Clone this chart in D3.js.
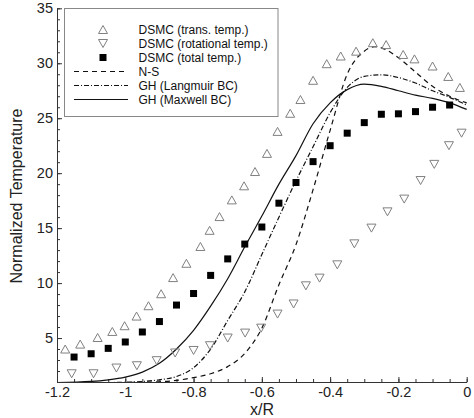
<!DOCTYPE html>
<html><head><meta charset="utf-8">
<script src="https://cdn.jsdelivr.net/npm/d3@7"></script>
<style>
body{margin:0;background:#fff;}
svg{display:block;font-family:"Liberation Sans",Arial,sans-serif;}
</style></head>
<body><svg id="c" width="474" height="418"></svg>
<script>
// ---- data ----
const transX = [-1.176,-1.132,-1.081,-1.038,-1.002,-0.967,-0.932,-0.895,-0.86,-0.821,-0.78,-0.753,-0.724,-0.688,-0.652,-0.62,-0.585,-0.554,-0.517,-0.487,-0.45,-0.41,-0.369,-0.324,-0.275,-0.236,-0.186,-0.153,-0.1,-0.054,-0.02];
const transY = [4.0,4.45,5.05,5.6,6.12,7.0,7.94,9.03,10.5,11.8,13.33,14.8,16.05,17.57,18.85,20.15,21.8,23.8,25.45,26.7,28.45,29.96,30.66,31.1,31.87,31.7,30.8,30.4,29.75,28.8,27.8];
const rotX = [-1.157,-1.093,-1.026,-0.966,-0.908,-0.854,-0.8,-0.752,-0.7,-0.649,-0.602,-0.554,-0.507,-0.471,-0.431,-0.379,-0.329,-0.279,-0.232,-0.183,-0.135,-0.095,-0.052,-0.015];
const rotY = [1.75,1.75,2.27,2.48,2.94,3.64,3.87,4.3,5.0,5.45,5.9,7.18,8.1,9.75,10.45,11.66,13.57,15.0,16.48,17.64,19.33,20.8,22.5,23.64];
const totalX = [-1.15,-1.1,-1.05,-1.0,-0.95,-0.9,-0.85,-0.8,-0.75,-0.7,-0.65,-0.6,-0.55,-0.5,-0.45,-0.4,-0.35,-0.3,-0.25,-0.2,-0.15,-0.1,-0.05];
const totalY = [3.27,3.57,4.06,4.64,5.55,6.5,8.0,9.05,10.7,12.2,13.55,15.1,17.27,19.15,21.05,22.5,23.64,24.6,25.36,25.4,25.6,26.0,26.2];
const nsX = [-1.2,-1.0,-0.9,-0.85,-0.8,-0.75,-0.7,-0.65,-0.6,-0.55,-0.5,-0.45,-0.4,-0.35,-0.3,-0.27,-0.25,-0.2,-0.15,-0.1,-0.05,0];
const nsY = [0.9,0.95,1.02,1.15,1.4,1.75,2.4,3.6,5.9,9.85,13.5,18.5,23.9,29.0,31.1,31.5,31.4,30.5,29.2,27.9,27.0,26.4];
const langX = [-1.2,-1.0,-0.95,-0.9,-0.85,-0.8,-0.75,-0.7,-0.65,-0.6,-0.55,-0.5,-0.45,-0.4,-0.35,-0.3,-0.25,-0.2,-0.15,-0.1,-0.05,0];
const langY = [0.9,0.98,1.05,1.2,1.5,2.3,4.0,6.6,9.2,12.6,16.0,19.3,22.4,25.5,27.8,28.8,28.95,28.7,28.2,27.5,26.9,26.2];
const maxX = [-1.2,-1.1,-1.05,-1.0,-0.95,-0.9,-0.85,-0.8,-0.75,-0.7,-0.65,-0.6,-0.55,-0.5,-0.45,-0.4,-0.35,-0.3,-0.25,-0.2,-0.15,-0.1,-0.05,0];
const maxY = [0.95,1.05,1.2,1.45,1.9,2.7,4.0,5.7,7.9,10.4,13.3,16.1,19.0,21.6,24.5,26.4,27.6,28.1,27.9,27.5,27.1,26.8,26.4,25.8];
const xTicks = [-1.2,-1,-0.8,-0.6,-0.4,-0.2,0];
const yTicks = [5,10,15,20,25,30,35];
const legendLabels = ["DSMC (trans. temp.)","DSMC (rotational temp.)","DSMC (total temp.)","N-S","GH (Langmuir BC)","GH (Maxwell BC)"];

// ---- chart ----
const svg = d3.select("#c");
const x = d3.scaleLinear().domain([-1.2,0]).range([57,466.7]);
const y = d3.scaleLinear().domain([1,35]).range([382,8.3]);
const axisColor = "#333";

svg.append("defs").append("clipPath").attr("id","clip")
  .append("rect").attr("x",57).attr("y",0).attr("width",420).attr("height",382);

// minor ticks
const xMinor = d3.range(-1.2,0.001,0.05).map(v=>+v.toFixed(2));
const yMinor = d3.range(1,35.5,1);
svg.append("g").attr("transform","translate(0,382)")
  .call(d3.axisBottom(x).tickValues(xMinor).tickSize(-3).tickSizeOuter(0).tickFormat(""))
  .call(g=>g.select(".domain").remove())
  .call(g=>g.selectAll("line").attr("stroke",axisColor));
svg.append("g").attr("transform","translate(57,0)")
  .call(d3.axisLeft(y).tickValues(yMinor).tickSize(-3).tickSizeOuter(0).tickFormat(""))
  .call(g=>g.select(".domain").remove())
  .call(g=>g.selectAll("line").attr("stroke",axisColor));

// major axes
const gx = svg.append("g").attr("transform","translate(0,382)")
  .call(d3.axisBottom(x).tickValues(xTicks).tickSize(-5).tickSizeOuter(0).tickPadding(5).tickFormat(d=>d3.format("")(d).replace("−","-")));
const gy = svg.append("g").attr("transform","translate(57,0)")
  .call(d3.axisLeft(y).tickValues(yTicks).tickSize(-5).tickSizeOuter(0).tickPadding(4));
[gx,gy].forEach(g=>{
  g.select(".domain").attr("stroke",axisColor);
  g.selectAll("line").attr("stroke",axisColor);
  g.selectAll("text").attr("font-size",14.5).attr("fill","#222").attr("font-family","'Liberation Sans',Arial,sans-serif");
});

svg.append("text").attr("x",262).attr("y",414.5).attr("text-anchor","middle")
  .attr("font-size",16).attr("fill","#222").text("x/R");
svg.append("text").attr("transform","translate(22,196) rotate(-90)").attr("text-anchor","middle")
  .attr("font-size",16).attr("fill","#222").text("Normalized Temperature");

// lines
const mkLine = d3.line().x(d=>x(d[0])).y(d=>y(d[1])).curve(d3.curveMonotoneX);
const plot = svg.append("g").attr("clip-path","url(#clip)");
const lineSpecs = [
  {xs:nsX, ys:nsY, dash:"5,4"},
  {xs:langX, ys:langY, dash:"5,2,1,2"},
  {xs:maxX, ys:maxY, dash:null}
];
lineSpecs.forEach(s=>{
  plot.append("path").datum(s.xs.map((v,i)=>[v,s.ys[i]]))
    .attr("d",mkLine).attr("fill","none").attr("stroke","#111").attr("stroke-width",1.2)
    .attr("stroke-dasharray",s.dash);
});

// markers
const upTri = "M0,-4L4.5,4L-4.5,4Z";
const downTri = "M0,4L4.5,-4L-4.5,-4Z";
plot.append("g").selectAll("path").data(transX.map((v,i)=>[v,transY[i]])).join("path")
  .attr("d",upTri).attr("transform",d=>`translate(${x(d[0])},${y(d[1])})`)
  .attr("fill","none").attr("stroke","#808080").attr("stroke-width",1);
plot.append("g").selectAll("path").data(rotX.map((v,i)=>[v,rotY[i]])).join("path")
  .attr("d",downTri).attr("transform",d=>`translate(${x(d[0])},${y(d[1])})`)
  .attr("fill","none").attr("stroke","#808080").attr("stroke-width",1);
plot.append("g").selectAll("rect").data(totalX.map((v,i)=>[v,totalY[i]])).join("rect")
  .attr("x",d=>x(d[0])-3.5).attr("y",d=>y(d[1])-3.5).attr("width",7).attr("height",7)
  .attr("fill","#000");

// legend
const lg = svg.append("g");
lg.append("rect").attr("x",64.5).attr("y",8.5).attr("width",213.5).attr("height",108)
  .attr("fill","#fff").attr("stroke","#888").attr("stroke-width",1);
const rowY = d => 29.5 + d*14;
legendLabels.forEach((t,i)=>{
  lg.append("text").attr("x",138.5).attr("y",rowY(i)+4.3).attr("font-size",12).attr("fill","#111").text(t);
});
lg.append("path").attr("d",upTri).attr("transform",`translate(103,${rowY(0)})`).attr("fill","none").attr("stroke","#808080");
lg.append("path").attr("d",downTri).attr("transform",`translate(103,${rowY(1)})`).attr("fill","none").attr("stroke","#808080");
lg.append("rect").attr("x",99.5).attr("y",rowY(2)-3.5).attr("width",7).attr("height",7).attr("fill","#000");
lineSpecs.forEach((s,i)=>{
  lg.append("line").attr("x1",74).attr("x2",128).attr("y1",rowY(3+i)).attr("y2",rowY(3+i))
    .attr("stroke","#111").attr("stroke-width",1.2).attr("stroke-dasharray",s.dash);
});
</script></body></html>
